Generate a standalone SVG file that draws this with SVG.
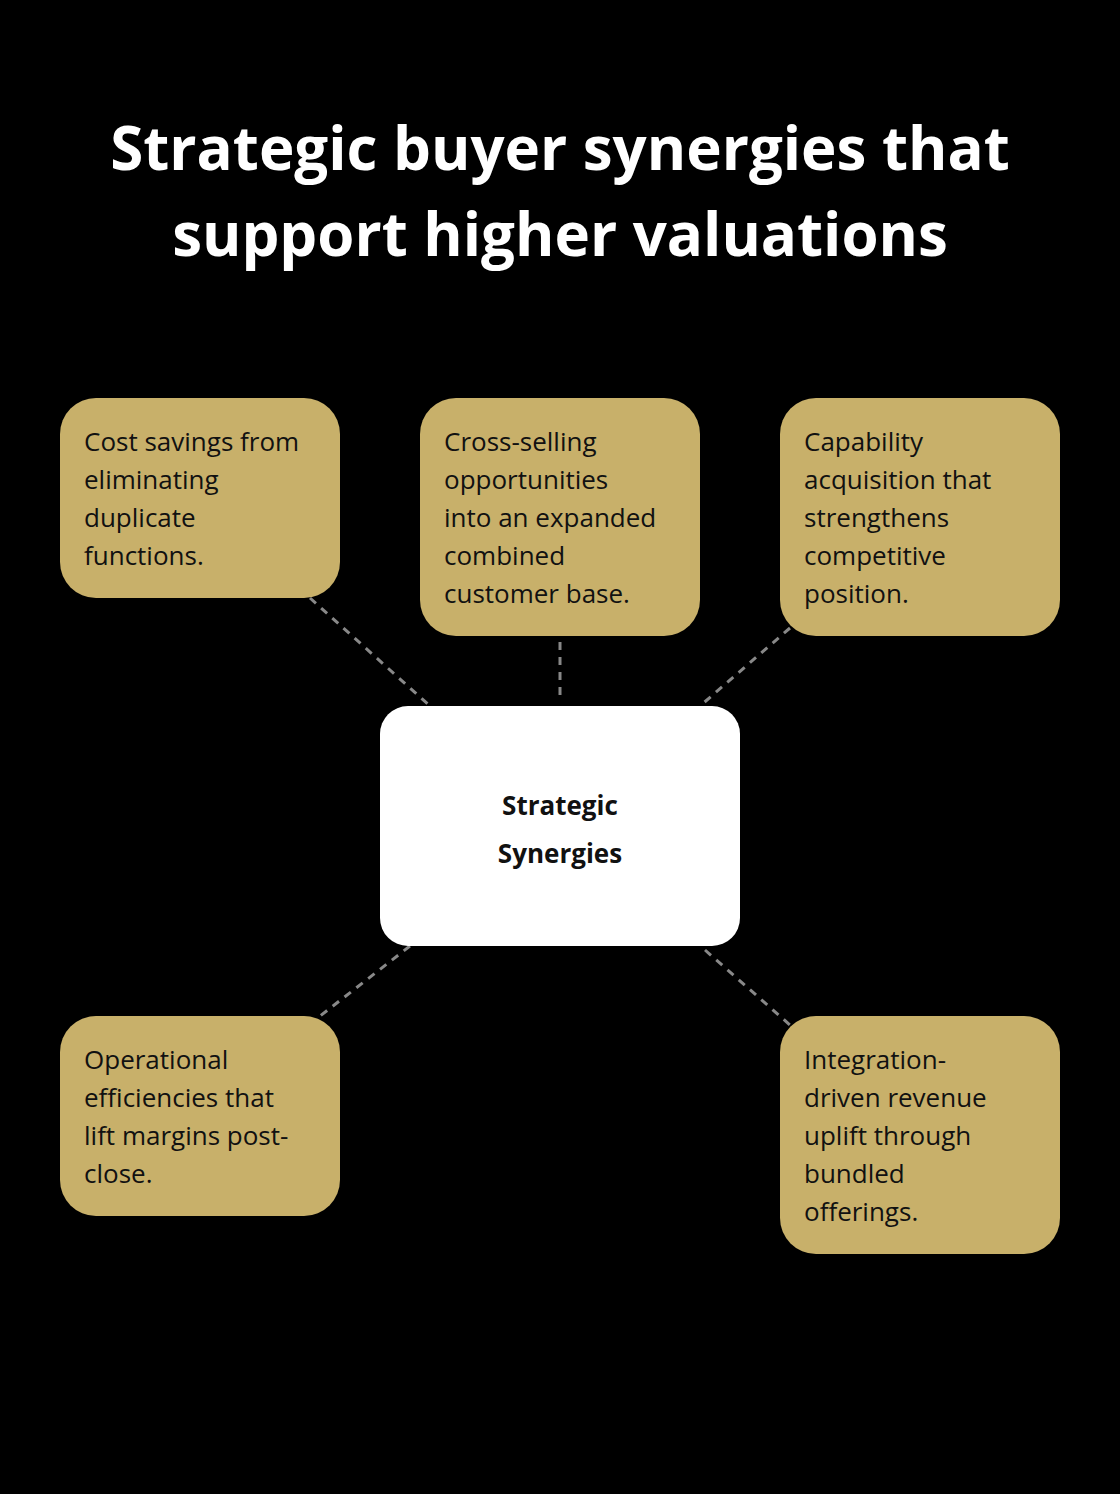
<svg xmlns="http://www.w3.org/2000/svg" width="1120" height="1494" viewBox="0 0 1120 1494">
<style>
.t{font-family:"Open Sans","Noto Sans",sans-serif;fill:#fff;font-weight:bold;font-size:60px;text-anchor:middle}
.b{fill:#c8b06a}
.l{font-family:"Open Sans","Noto Sans",sans-serif;font-size:26px;fill:#111}
.c{stroke:#888;stroke-width:3;stroke-dasharray:8 7;fill:none}
</style>
<rect width="1120" height="1494" fill="#000"/>
<text class="t" x="560" y="170">Strategic buyer synergies that</text>
<text class="t" x="560" y="256">support higher valuations</text>
<g id="connectors">
<line class="c" x1="310" y1="598" x2="430" y2="706"/>
<line class="c" x1="560" y1="642" x2="560" y2="700"/>
<line class="c" x1="790" y1="628" x2="700" y2="706"/>
<line class="c" x1="410" y1="946" x2="315" y2="1020"/>
<line class="c" x1="705" y1="950" x2="790" y2="1025"/>
</g>
<g id="center">
<rect x="380" y="706" width="360" height="240" rx="28" fill="#fff"/>
<text class="l" x="560" y="815" text-anchor="middle" font-weight="bold" font-size="33">Strategic</text>
<text class="l" x="560" y="863" text-anchor="middle" font-weight="bold" font-size="33">Synergies</text>
</g>
<g id="n1">
<rect class="b" x="60" y="398" width="280" height="200" rx="36"/>
<text class="l" x="84" y="451">Cost savings from</text>
<text class="l" x="84" y="489">eliminating</text>
<text class="l" x="84" y="527">duplicate</text>
<text class="l" x="84" y="565">functions.</text>
</g>
<g id="n2">
<rect class="b" x="420" y="398" width="280" height="238" rx="36"/>
<text class="l" x="444" y="451">Cross-selling</text>
<text class="l" x="444" y="489">opportunities</text>
<text class="l" x="444" y="527">into an expanded</text>
<text class="l" x="444" y="565">combined</text>
<text class="l" x="444" y="603">customer base.</text>
</g>
<g id="n3">
<rect class="b" x="780" y="398" width="280" height="238" rx="36"/>
<text class="l" x="804" y="451">Capability</text>
<text class="l" x="804" y="489">acquisition that</text>
<text class="l" x="804" y="527">strengthens</text>
<text class="l" x="804" y="565">competitive</text>
<text class="l" x="804" y="603">position.</text>
</g>
<g id="n4">
<rect class="b" x="60" y="1016" width="280" height="200" rx="36"/>
<text class="l" x="84" y="1069">Operational</text>
<text class="l" x="84" y="1107">efficiencies that</text>
<text class="l" x="84" y="1145">lift margins post-</text>
<text class="l" x="84" y="1183">close.</text>
</g>
<g id="n5">
<rect class="b" x="780" y="1016" width="280" height="238" rx="36"/>
<text class="l" x="804" y="1069">Integration-</text>
<text class="l" x="804" y="1107">driven revenue</text>
<text class="l" x="804" y="1145">uplift through</text>
<text class="l" x="804" y="1183">bundled</text>
<text class="l" x="804" y="1221">offerings.</text>
</g>
</svg>
